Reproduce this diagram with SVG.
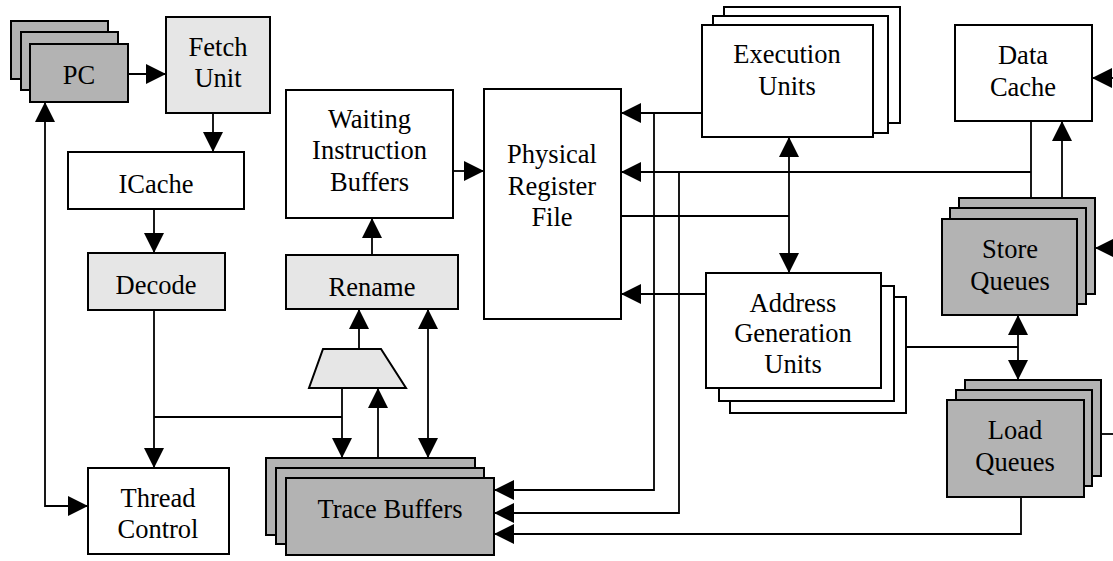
<svg xmlns="http://www.w3.org/2000/svg" width="1113" height="561" viewBox="0 0 1113 561">
<defs>
<marker id="ah" markerUnits="userSpaceOnUse" markerWidth="20" markerHeight="20" refX="20" refY="10" orient="auto-start-reverse" viewBox="0 0 20 20">
<path d="M0,0 L20,10 L0,20 z" fill="#000"/>
</marker>
<style>
.box{stroke:#000;stroke-width:2}
.w{fill:#fff}
.lg{fill:#e6e6e6}
.dg{fill:#b3b3b3}
.c{fill:none;stroke:#000;stroke-width:1.8}
.a{marker-end:url(#ah)}
.b{marker-start:url(#ah);marker-end:url(#ah)}
text{font-family:"Liberation Serif","Times New Roman",serif;font-size:26.5px;fill:#000;text-anchor:middle}
</style>
</defs>
<rect width="1113" height="561" fill="#fff"/>
<g id="connectors">
<path class="c a" d="M128,74 H166"/>
<path class="c a" d="M213,113 V152"/>
<path class="c a" d="M154,209 V253"/>
<path class="c a" d="M154,310 V468"/>
<path class="c" d="M154,417 H342"/>
<path class="c a" d="M342,388 V458"/>
<path class="c b" d="M45,102 V506 H88"/>
<path class="c a" d="M378,458 V388"/>
<path class="c a" d="M359,349 V309"/>
<path class="c b" d="M428,309 V458"/>
<path class="c a" d="M372,255 V218"/>
<path class="c a" d="M453,171 H484"/>
<path class="c a" d="M702,113 H621"/>
<path class="c a" d="M654,113 V490 H494"/>
<path class="c" d="M1031,121 V198"/>
<path class="c a" d="M1031,172 H621"/>
<path class="c a" d="M679,172 V513 H494"/>
<path class="c" d="M621,216 H789"/>
<path class="c b" d="M789,137 V273"/>
<path class="c a" d="M706,294 H621"/>
<path class="c a" d="M1062,198 V121"/>
<path class="c b" d="M1018,315 V380"/>
<path class="c" d="M906,347 H1018"/>
<path class="c a" d="M1021,497 V534 H494"/>
<path class="c a" d="M1113,78 H1092"/>
<path class="c a" d="M1113,248 H1095"/>
<path class="c" d="M1101,434 H1113"/>
</g>
<g id="pc">
<rect class="box dg" x="11" y="21" width="97" height="58"/>
<rect class="box dg" x="21" y="32" width="97" height="58"/>
<rect class="box dg" x="30" y="44" width="98" height="58"/>
<text x="79" y="84">PC</text>
</g>
<g id="fetch-unit">
<rect class="box lg" x="166" y="17" width="104" height="96"/>
<text x="218" y="56">Fetch</text>
<text x="218" y="87">Unit</text>
</g>
<g id="icache">
<rect class="box w" x="68" y="152" width="176" height="57"/>
<text x="156" y="193">ICache</text>
</g>
<g id="decode">
<rect class="box lg" x="88" y="253" width="137" height="57"/>
<text x="156" y="294">Decode</text>
</g>
<g id="thread-control">
<rect class="box w" x="88" y="468" width="141" height="86"/>
<text x="158" y="507">Thread</text>
<text x="158" y="538">Control</text>
</g>
<g id="waiting-instruction-buffers">
<rect class="box w" x="286" y="90" width="167" height="128"/>
<text x="369.5" y="128">Waiting</text>
<text x="369.5" y="159">Instruction</text>
<text x="369.5" y="191">Buffers</text>
</g>
<g id="rename">
<rect class="box lg" x="286" y="255" width="172" height="54"/>
<text x="372" y="296">Rename</text>
</g>
<g id="mux">
<polygon class="box lg" points="323,349 381,349 406,388 309,388"/>
</g>
<g id="trace-buffers">
<rect class="box dg" x="266" y="458" width="209" height="77"/>
<rect class="box dg" x="276" y="468" width="208" height="76"/>
<rect class="box dg" x="286" y="478" width="208" height="77"/>
<text x="390" y="518">Trace Buffers</text>
</g>
<g id="physical-register-file">
<rect class="box w" x="484" y="89" width="137" height="230"/>
<text x="552" y="163">Physical</text>
<text x="552" y="195">Register</text>
<text x="552" y="226">File</text>
</g>
<g id="execution-units">
<rect class="box w" x="724" y="7" width="176" height="116"/>
<rect class="box w" x="713" y="16" width="175" height="117"/>
<rect class="box w" x="702" y="25" width="171" height="112"/>
<text x="787" y="63">Execution</text>
<text x="787" y="95">Units</text>
</g>
<g id="address-generation-units">
<rect class="box w" x="730" y="297" width="176" height="116"/>
<rect class="box w" x="719" y="286" width="175" height="115"/>
<rect class="box w" x="706" y="273" width="175" height="115"/>
<text x="793" y="312">Address</text>
<text x="793" y="342">Generation</text>
<text x="793" y="373">Units</text>
</g>
<g id="data-cache">
<rect class="box w" x="955" y="25" width="137" height="96"/>
<text x="1023" y="64">Data</text>
<text x="1023" y="96">Cache</text>
</g>
<g id="store-queues">
<rect class="box dg" x="959" y="198" width="136" height="96"/>
<rect class="box dg" x="950" y="208" width="136" height="96"/>
<rect class="box dg" x="942" y="219" width="135" height="96"/>
<text x="1010" y="258">Store</text>
<text x="1010" y="290">Queues</text>
</g>
<g id="load-queues">
<rect class="box dg" x="965" y="380" width="136" height="96"/>
<rect class="box dg" x="956" y="390" width="136" height="96"/>
<rect class="box dg" x="947" y="400" width="137" height="97"/>
<text x="1015" y="439">Load</text>
<text x="1015" y="471">Queues</text>
</g>
</svg>
